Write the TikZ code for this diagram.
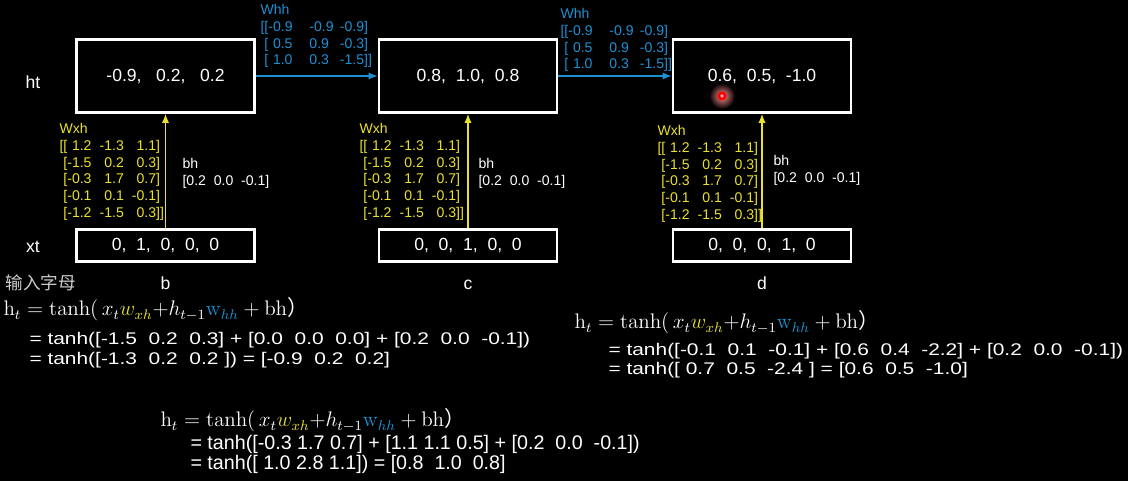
\documentclass[tikz,border=0pt]{standalone}
\usepackage[no-math]{fontspec}
\setmainfont{Liberation Sans}
\newfontfamily\cjk{Noto Sans CJK SC}
\newfontfamily\wideface{Liberation Sans}[FakeStretch=1.24]
\usetikzlibrary{positioning,arrows.meta}
\definecolor{whhblue}{RGB}{30,144,210}
\definecolor{wxhyellow}{RGB}{235,225,45}

\newcommand{\wxhmat}{%
\begin{tabular}{@{}l@{}r@{\hspace{4.6pt}}r@{\hspace{4.6pt}}r@{}l@{}}
\multicolumn{5}{@{}l}{Wxh}\\
{[[} & 1.2 & -1.3 & 1.1 & ]\\
\hphantom{[}[ & -1.5 & 0.2 & 0.3 & ]\\
\hphantom{[}[ & -0.3 & 1.7 & 0.7 & ]\\
\hphantom{[}[ & -0.1 & 0.1 & -0.1 & ]\\
\hphantom{[}[ & -1.2 & -1.5 & 0.3 & ]]
\end{tabular}}
\newcommand{\whhmat}{%
\begin{tabular}{@{}l@{}r@{\hspace{9.6pt}}l@{\hspace{3.6pt}}r@{}l@{}}
\multicolumn{5}{@{}l}{Whh}\\
{[[} & -0.9 & -0.9 & -0.9 & ]\\
\hphantom{[}[ & 0.5 & 0.9 & -0.3 & ]\\
\hphantom{[}[ & 1.0 & 0.3 & -1.5 & ]]
\end{tabular}}
\newcommand{\bhvec}{%
\begin{tabular}{@{}l@{}}
bh\\
{[0.2~~0.0~~-0.1]}
\end{tabular}}
\newcommand{\htline}{$\mathrm{h}_t = \mathrm{tanh}(\,x_t\textcolor{wxhyellow}{w_{xh}}{+}h_{t-1}\textcolor{whhblue}{\mathrm{w}_{hh}} + \mathrm{bh}${\cjk ）}}

\begin{document}
\begin{tikzpicture}[>={Latex[length=5pt,width=4pt]}, line width = 0.6pt]
    \tikzstyle{hbox} = [draw = white, fill = black, line width = 1.7pt, minimum width = 3.56cm, minimum height = 1.46cm, inner sep = 0pt, text = white, font = \fontsize{10}{12}\selectfont]
    \tikzstyle{xbox} = [hbox, minimum height = 0.64cm]
    \tikzstyle{lab} = [text = white, inner sep = 0pt, font = \fontsize{10}{12}\selectfont]
    \tikzstyle{mat} = [anchor = north west, inner sep = 0pt, font = \fontsize{8}{9.6}\selectfont]
    \tikzstyle{eq} = [anchor = base west, inner sep = 0pt, text = white, font = \wideface\fontsize{9.6}{12}\selectfont]
    \tikzstyle{eqnarrow} = [eq, font = \fontsize{11.2}{12}\selectfont]
    \tikzstyle{eqtop} = [eq, font = \fontsize{12}{14}\selectfont]

    \fill[black, use as bounding box] (0,0) rectangle (22.56,-9.62);

    \node[hbox] (hb) at (3.31,-1.52) {-0.9,~~~0.2,~~~0.2};
    \node[hbox] (hc) at (9.36,-1.52) {0.8,~~1.0,~~0.8};
    \node[hbox] (hd) at (15.24,-1.52) {0.6,~~0.5,~~-1.0};
    \node[xbox] (xb) [below of = hb, node distance = 3.39cm] {0,~~1,~~0,~~0,~~0};
    \node[xbox] (xc) [below of = hc, node distance = 3.39cm] {0,~~0,~~1,~~0,~~0};
    \node[xbox] (xd) [below of = hd, node distance = 3.39cm] {0,~~0,~~0,~~1,~~0};

    \node[lab] (ht) at (0.66,-1.64) {ht};
    \node[lab] (xt) at (0.66,-4.94) {xt};
    \node[lab, text = white!80!black] (input) at (0.82,-5.66) {\cjk 输入字母};
    \node[lab] (b) [below of = xb, node distance = 0.75cm] {b};
    \node[lab] (c) [below of = xc, node distance = 0.78cm] {c};
    \node[lab] (d) [below of = xd, node distance = 0.75cm] {d};

    \node[mat, text = wxhyellow] (wxhb) at (1.18,-2.42) {\wxhmat};
    \node[mat, text = wxhyellow] (wxhc) at (7.18,-2.42) {\wxhmat};
    \node[mat, text = wxhyellow] (wxhd) at (13.14,-2.46) {\wxhmat};
    \node[mat, text = white] (bhb) at (3.64,-3.12) {\bhvec};
    \node[mat, text = white] (bhc) at (9.56,-3.12) {\bhvec};
    \node[mat, text = white] (bhd) at (15.46,-3.06) {\bhvec};
    \node[mat, text = whhblue] (whhb) at (5.20,-0.04) {\whhmat};
    \node[mat, text = whhblue] (whhc) at (11.20,-0.12) {\whhmat};

    \draw[->, wxhyellow] (xb) -- (hb);
    \draw[->, wxhyellow] (xc) -- (hc);
    \draw[->, wxhyellow] (xd) -- (hd);
    \draw[->, whhblue] (hb) -- (hc);
    \draw[->, whhblue] (hc) -- (hd);

    \shade[inner color = red!45!white, outer color = black] (14.44,-1.92) circle (0.26);
    \fill[red] (14.44,-1.92) circle (0.09);
    \fill[red!30!white] (14.44,-1.92) circle (0.035);

    \node[eqtop] (eqb1) at (0.06,-6.32) {\htline};
    \node[eq] (eqb2) at (0.58,-6.90) {= tanh([-1.5~~0.2~~0.3] + [0.0~~0.0~~0.0] + [0.2~~0.0~~-0.1])};
    \node[eq] (eqb3) at (0.58,-7.30) {= tanh([-1.3~~0.2~~0.2~]) = [-0.9~~0.2~~0.2]};

    \node[eqtop] (eqd1) at (11.48,-6.58) {\htline};
    \node[eq] (eqd2) at (12.16,-7.12) {= tanh([-0.1~~0.1~~-0.1] + [0.6~~0.4~~-2.2] + [0.2~~0.0~~-0.1])};
    \node[eq] (eqd3) at (12.16,-7.50) {= tanh([~0.7~~0.5~~-2.4~] = [0.6~~0.5~~-1.0]};

    \node[eqtop] (eqc1) at (3.20,-8.54) {\htline};
    \node[eqnarrow] (eqc2) at (3.80,-9.00) {= tanh([-0.3 1.7 0.7] + [1.1 1.1 0.5] + [0.2~~0.0~~-0.1])};
    \node[eqnarrow] (eqc3) at (3.80,-9.40) {= tanh([~1.0 2.8 1.1]) = [0.8~~1.0~~0.8]};
\end{tikzpicture}
\end{document}
